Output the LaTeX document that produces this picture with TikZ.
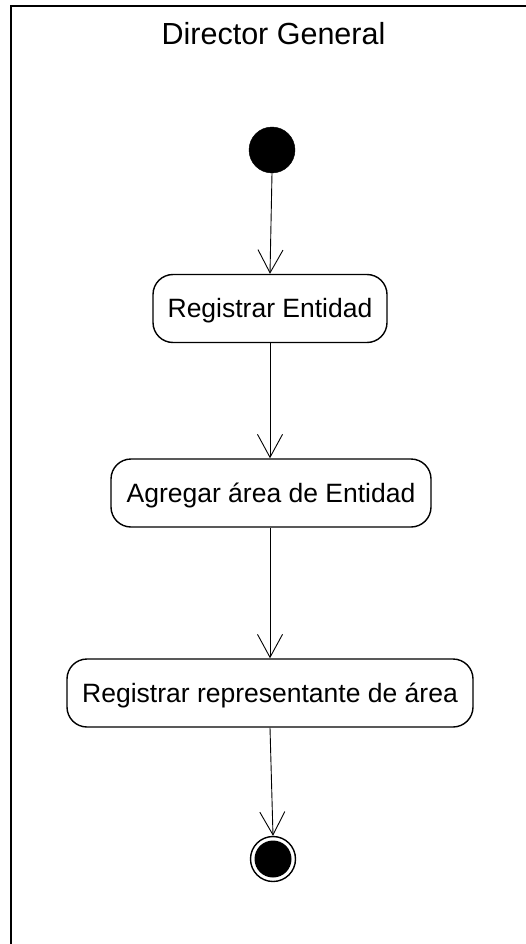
\documentclass[tikz,border=0pt]{standalone}
\usepackage{fontspec}
\setmainfont{Liberation Sans}
\usetikzlibrary{arrows.meta}
\tikzset{
  activity/.style={draw, line width=1.4pt, rounded corners=20pt, minimum height=68pt,
    inner sep=0pt, text height=18.5pt, text depth=0pt, font=\fontsize{26.5}{29}\selectfont},
  flow/.style={draw, line width=0.9pt, -{Straight Barb[length=23pt,width=25pt,line width=0.9pt]}},
}
\begin{document}
\begin{tikzpicture}[x=1pt,y=-1pt]
\useasboundingbox (0,0) rectangle (526,944);
% partition frame (clipped swimlane)
\draw[line width=2pt] (526,6.5) -- (11,6.5) -- (11,944);
\node[anchor=base, font=\fontsize{30.5}{33}\selectfont] (title) at (273.5,44.5) {Director General};
% initial node
\node[circle, fill=black, draw=black, minimum size=46pt, inner sep=0pt] (start) at (272,150) {};
% activities
\node[activity, minimum width=234pt] (a1) at (270,308.5) {Registrar Entidad};
\node[activity, minimum width=320pt] (a2) at (271,493) {Agregar área de Entidad};
\node[activity, minimum width=406pt] (a3) at (270,693) {Registrar representante de área};
% final node
\node[circle, draw=black, line width=1.4pt, minimum size=45pt, inner sep=0pt] (final) at (273,859) {};
\node[circle, fill=black, minimum size=37pt, inner sep=0pt] (finalin) at (final.center) {};
% flows
\draw[flow] (start.south) -- (a1.north);
\draw[flow] (a1.south) -- (a1.south |- a2.north);
\draw[flow] (a1.south |- a2.south) -- (a1.south |- a3.north);
\draw[flow] (a1.south |- a3.south) -- (final.north);
\end{tikzpicture}
\end{document}
